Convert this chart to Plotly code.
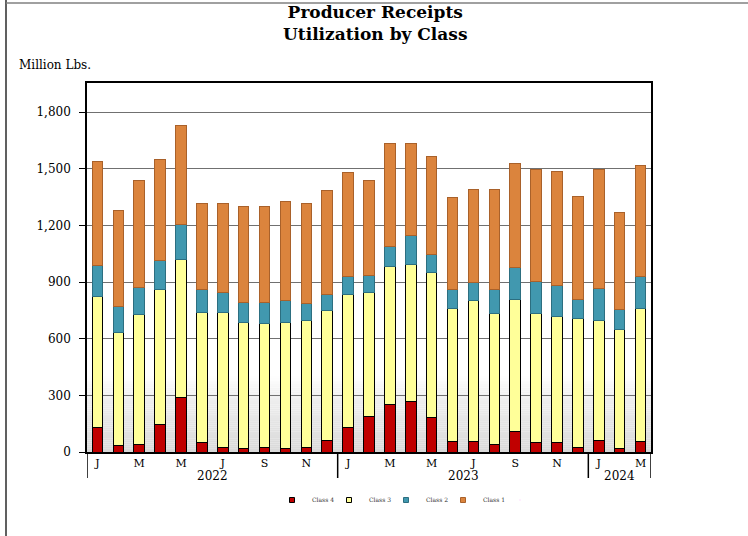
import plotly.graph_objects as go

months = ["2022-01", "2022-02", "2022-03", "2022-04", "2022-05", "2022-06",
          "2022-07", "2022-08", "2022-09", "2022-10", "2022-11", "2022-12",
          "2023-01", "2023-02", "2023-03", "2023-04", "2023-05", "2023-06",
          "2023-07", "2023-08", "2023-09", "2023-10", "2023-11", "2023-12",
          "2024-01", "2024-02", "2024-03"]
class4 = [129, 37, 41, 143, 288, 51, 26, 19, 26, 16, 26, 62,
          131, 189, 249, 268, 184, 57, 53, 41, 108, 49, 51, 25,
          62, 20, 58]
class3 = [693, 598, 688, 718, 732, 689, 710, 666, 652, 671, 669, 686,
          704, 656, 732, 724, 767, 704, 750, 693, 700, 682, 667, 683,
          635, 626, 704]
class2 = [163, 134, 143, 152, 182, 118, 107, 107, 113, 114, 92, 88,
          93, 90, 106, 153, 95, 97, 97, 125, 170, 173, 166, 98,
          168, 106, 168]
class1 = [555, 511, 563, 536, 524, 460, 470, 509, 511, 524, 529, 549,
          553, 501, 544, 489, 516, 492, 492, 533, 552, 594, 600, 549,
          628, 517, 589]
tick_months = months[0::2]
tick_letters = ["J", "M", "M", "J", "S", "N", "J", "M", "M", "J", "S", "N", "J", "M"]
years = ["2022", "2023", "2024"]
year_centers = [5.5, 17.5, 25]
year_bounds = [-0.5, 11.5, 23.5, 26.5]
y_ticks = [0, 300, 600, 900, 1200, 1500, 1800]

SERIF = "DejaVu Serif"
W, H = 748, 536
L, R, T, B = 87, 651, 83, 452
PW, PH = R - L, B - T


def px_x(px):
    return (px - L) / PW


def px_y(py):
    return (B - py) / PH


series = [
    ("Class 4", class4, "#C00000", "#000000"),
    ("Class 3", class3, "#FFFF99", "#000000"),
    ("Class 2", class2, "#4198AF", "#2C6E80"),
    ("Class 1", class1, "#DB843D", "#A9612A"),
]

fig = go.Figure()
for name, vals, col, lcol in series:
    fig.add_trace(go.Bar(
        x=months, y=vals, name=name, showlegend=False,
        marker=dict(color=col, line=dict(color=lcol, width=1)),
    ))
# legend entries with small square symbols
for name, vals, col, lcol in series:
    fig.add_trace(go.Scatter(
        x=[None], y=[None], mode="markers", name=name,
        marker=dict(symbol="square", size=5, color=col, line=dict(color=lcol, width=1)),
    ))
# blank spacer entry so the last legend label is not clipped
fig.add_trace(go.Scatter(x=[None], y=[None], mode="markers", name=" ",
                         marker=dict(size=1, opacity=0)))

shapes = []


def gray(v):
    if v <= 300:
        g = 216 + (240 - 216) * v / 300
    else:
        g = 240 + (255 - 240) * min(1, (v - 300) / 100)
    g = int(round(g))
    return f"rgb({g},{g},{g})"


step = 10
for v in range(0, 400, step):
    shapes.append(dict(type="rect", xref="paper", yref="y", x0=0, x1=1,
                       y0=v, y1=v + step, fillcolor=gray(v + step / 2),
                       line=dict(width=0), layer="below"))

for xb in year_bounds:
    shapes.append(dict(type="line", xref="x", yref="paper", x0=xb, x1=xb,
                       y0=0, y1=px_y(478), line=dict(color="black", width=1.5)))

# outer frame lines
shapes.append(dict(type="line", xref="paper", yref="paper", x0=px_x(6), x1=px_x(6),
                   y0=px_y(0), y1=px_y(536), line=dict(color="#606060", width=2)))
shapes.append(dict(type="line", xref="paper", yref="paper", x0=px_x(6), x1=px_x(748),
                   y0=px_y(3), y1=px_y(3), line=dict(color="#808080", width=1.5)))

annotations = [
    dict(text="<b>Producer Receipts<br>Utilization by Class</b>", xref="paper", yref="paper",
         x=px_x(375), y=px_y(23), yanchor="middle", showarrow=False,
         font=dict(family=SERIF, size=17, color="black")),
    dict(text="Million Lbs.", xref="paper", yref="paper", x=px_x(17), y=px_y(65),
         xanchor="left", yanchor="middle", showarrow=False,
         font=dict(family=SERIF, size=12, color="black")),
]
for yr, xc in zip(years, year_centers):
    annotations.append(dict(text=yr, xref="x", yref="paper", x=xc, y=px_y(476),
                            yanchor="middle", showarrow=False,
                            font=dict(family=SERIF, size=12, color="black")))

fig.update_layout(
    width=W, height=H,
    margin=dict(l=L, r=W - R, t=T, b=H - B, pad=0),
    paper_bgcolor="white", plot_bgcolor="white",
    barmode="stack", bargap=0.49,
    font=dict(family=SERIF, color="black"),
    shapes=shapes, annotations=annotations,
    showlegend=True,
    legend=dict(orientation="h", x=px_x(272), xanchor="left", y=px_y(500), yanchor="middle",
                font=dict(family=SERIF, size=6, color="#333"), traceorder="normal",
                entrywidth=12, entrywidthmode="pixels", bgcolor="rgba(0,0,0,0)"),
    xaxis=dict(
        type="category",
        tickmode="array", tickvals=tick_months, ticktext=tick_letters,
        ticks="", showline=True, linecolor="black", linewidth=1.5, mirror=True,
        showgrid=False, tickfont=dict(family=SERIF, size=11, color="black"),
        range=[-0.5, 26.5],
    ),
    yaxis=dict(
        range=[0, (B - T) * 1800 / (452 - 112)],
        tickmode="array", tickvals=y_ticks, tickformat=",d",
        ticks="outside", ticklen=6, tickcolor="black", tickwidth=1,
        ticklabelstandoff=6,
        showline=True, linecolor="black", linewidth=1.5, mirror=True,
        showgrid=True, gridcolor="#707070", gridwidth=1, zeroline=False,
        tickfont=dict(family=SERIF, size=12, color="black"),
    ),
)

fig.write_html("out.html", config={"displayModeBar": False},
               post_script="document.body.style.margin='0';")
